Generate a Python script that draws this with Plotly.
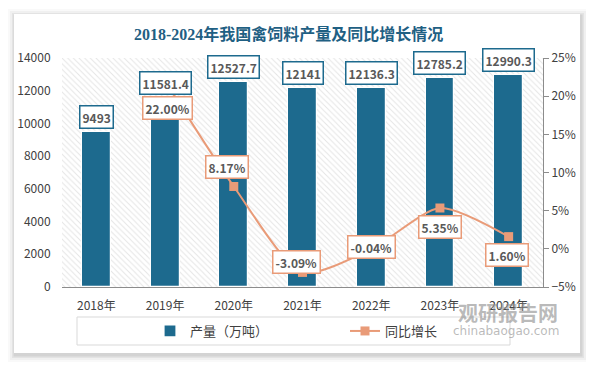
import plotly.graph_objects as go

# ---- data ----
years = ["2018年", "2019年", "2020年", "2021年", "2022年", "2023年", "2024年"]
output = [9493, 11581.4, 12527.7, 12141, 12136.3, 12785.2, 12990.3]
growth = [None, 0.22, 0.0817, -0.0309, -0.0004, 0.0535, 0.016]
output_labels = ["9493", "11581.4", "12527.7", "12141", "12136.3", "12785.2", "12990.3"]
growth_labels = [None, "22.00%", "8.17%", "-3.09%", "-0.04%", "5.35%", "1.60%"]

BAR = "#1d6a8e"
LINE = "#e99b78"
TXT = "#595959"
FONT = "Noto Sans CJK SC"

# page body has an 8px margin: figure is drawn from (8, 8)
OFF = 8
SW, SH = 594, 366                      # screen size
PL, PT, PR, PB = 62, 58, 543, 287      # plot area in screen pixels
W, H = SW - OFF, SH - OFF
ML, MT = PL - OFF, PT - OFF
MR, MB = SW - PR, SH - PB
PW, PH = PR - PL, PB - PT


def px(x):
    return (x - PL) / PW


def py(y):
    return (PB - y) / PH


fig = go.Figure()

# hatched plot-area background
fig.add_trace(go.Bar(
    x=[years[3]], y=[14000], width=[len(years)],
    marker=dict(color="white", line=dict(width=0),
                pattern=dict(shape="\\", fgcolor="#cbcbcb", bgcolor="white", size=4, solidity=0.25)),
    showlegend=False, hoverinfo="skip", yaxis="y"))

fig.add_trace(go.Bar(
    x=years, y=output, name="产量（万吨）", width=0.42,
    marker=dict(color=BAR, line=dict(color="white", width=1.2)),
    yaxis="y"))

fig.add_trace(go.Scatter(
    x=years, y=growth, name="同比增长", mode="lines+markers",
    line=dict(color=LINE, width=2, shape="spline", smoothing=0.7),
    marker=dict(symbol="square", size=9, color=LINE),
    connectgaps=False, yaxis="y2"))

annotations = []
# bar value labels
for yr, v, lab in zip(years, output, output_labels):
    annotations.append(dict(
        x=yr, y=v, xref="x", yref="y", text=lab, showarrow=False,
        yshift=15, font=dict(family=FONT, size=12, color=TXT, weight="bold"),
        bgcolor="white", bordercolor=BAR, borderwidth=1.5, borderpad=2))

# growth labels (offsets in px)
offsets = [None, (2, -27), (-7, 19), (-6, 10), (0, 2), (0, -19), (-2, -18)]
for yr, g, lab, off in zip(years, growth, growth_labels, offsets):
    if g is None:
        continue
    annotations.append(dict(
        x=yr, y=g, xref="x", yref="y2", text=lab, showarrow=False,
        xshift=off[0], yshift=off[1],
        font=dict(family=FONT, size=12, color=TXT, weight="bold"),
        bgcolor="white", bordercolor=LINE, borderwidth=1.5, borderpad=2))

# title
annotations.append(dict(
    x=px(288.5), y=py(34), xref="paper", yref="paper", showarrow=False,
    xanchor="center", yanchor="middle",
    text="<b>2018-2024年我国禽饲料产量及同比增长情况</b>",
    font=dict(family="Liberation Serif, " + FONT, size=16, color="#1f6083")))

# watermark
annotations.append(dict(
    x=px(508), y=py(312), xref="paper", yref="paper", showarrow=False,
    xanchor="center", yanchor="middle",
    text="<b>观研报告网</b>", font=dict(family=FONT, size=20, color="rgba(140,140,140,0.6)")))
annotations.append(dict(
    x=px(506), y=py(331), xref="paper", yref="paper", showarrow=False,
    xanchor="center", yanchor="middle",
    text="chinabaogao.com", font=dict(family="DejaVu Sans", size=12, color="rgba(140,140,140,0.6)")))

shapes = []
# card shadow
for d, op in [(7, 0.025), (5, 0.035), (3, 0.05), (1.5, 0.07)]:
    shapes.append(dict(type="rect", xref="paper", yref="paper", layer="below",
                       x0=px(14 - d + 1), x1=px(580 + d + 1), y0=py(14 - d + 2), y1=py(353 + d + 2),
                       fillcolor=f"rgba(0,0,0,{op})", line=dict(width=0)))
# card
shapes.append(dict(type="rect", xref="paper", yref="paper", layer="below",
                   x0=px(14), x1=px(580), y0=py(14), y1=py(353),
                   fillcolor="white", line=dict(width=0)))
# legend border
shapes.append(dict(type="rect", xref="paper", yref="paper", layer="below",
                   x0=px(77), x1=px(510), y0=py(317), y1=py(345),
                   fillcolor="rgba(0,0,0,0)", line=dict(color="#d9d9d9", width=1)))

fig.update_layout(
    width=W, height=H,
    margin=dict(l=ML, r=MR, t=MT, b=MB, autoexpand=False),
    paper_bgcolor="white", plot_bgcolor="rgba(0,0,0,0)",
    barmode="overlay", bargap=0,
    font=dict(family=FONT, size=12, color="#404040"),
    xaxis=dict(type="category", categoryorder="array", categoryarray=years,
               range=[-0.5, 6.5], showline=True, linecolor="#8c8c8c",
               linewidth=1, ticks="outside", ticklen=8, tickcolor="rgba(0,0,0,0)", showgrid=False,
               tickfont=dict(size=12, color="#404040")),
    yaxis=dict(range=[0, 14000], dtick=2000, tickformat="d", showgrid=False, zeroline=False, showline=False,
               ticks="outside", ticklen=8, tickcolor="rgba(0,0,0,0)",
               tickfont=dict(size=12, color="#404040")),
    yaxis2=dict(range=[-0.05, 0.25], dtick=0.05, tickformat=".0%", overlaying="y", side="right",
                showgrid=False, zeroline=False, showline=True, linecolor="#8c8c8c",
                ticks="outside", ticklen=5, tickcolor="#8c8c8c",
                tickfont=dict(size=12, color="#404040")),
    legend=dict(orientation="h", x=px(150), y=py(331), xanchor="left", yanchor="middle",
                bgcolor="rgba(0,0,0,0)", entrywidth=150, entrywidthmode="pixels",
                font=dict(size=13, color="#404040")),
    annotations=annotations, shapes=shapes,
    hovermode=False,
)

fig.write_html("out.html")
